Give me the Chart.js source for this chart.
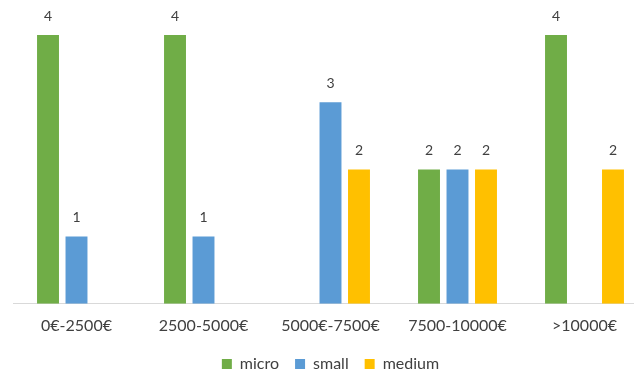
<!DOCTYPE html>
<html>
<head>
<meta charset="utf-8">
<script src="https://cdn.jsdelivr.net/npm/chart.js@4"></script>
<style>
  html, body { margin: 0; padding: 0; background: #fff; overflow: hidden; }
  #wrap { width: 650px; height: 372px; position: relative; }
</style>
</head>
<body>
<div id="wrap"><canvas id="c"></canvas></div>
<script>
// Revenue bands and count of companies per size class
const categories = ['0€-2500€', '2500-5000€', '5000€-7500€', '7500-10000€', '>10000€'];
const micro  = [4, 4, 0, 2, 4];
const small  = [1, 1, 3, 2, 0];
const medium = [0, 0, 2, 2, 2];

const FONT = 'Lato, "Open Sans", sans-serif';
const TEXT = '#404040';

// Writes each non-zero value above its bar
const valueLabels = {
  id: 'valueLabels',
  afterDatasetsDraw(chart) {
    const ctx = chart.ctx;
    ctx.save();
    ctx.font = '14px ' + FONT;
    ctx.fillStyle = TEXT;
    ctx.textAlign = 'center';
    ctx.textBaseline = 'bottom';
    chart.data.datasets.forEach((ds, i) => {
      const meta = chart.getDatasetMeta(i);
      meta.data.forEach((bar, j) => {
        const v = ds.data[j];
        if (!v) return;
        ctx.fillText(String(v), bar.x, bar.y - 12);
      });
    });
    ctx.restore();
  }
};

new Chart(document.getElementById('c'), {
  type: 'bar',
  data: {
    labels: categories,
    datasets: [
      { label: 'micro',  data: micro,  backgroundColor: '#70AD47' },
      { label: 'small',  data: small,  backgroundColor: '#5B9BD5' },
      { label: 'medium', data: medium, backgroundColor: '#FFC000' }
    ]
  },
  options: {
    responsive: true,
    maintainAspectRatio: false,
    animation: false,
    categoryPercentage: 0.673,
    barPercentage: 0.77,
    layout: { padding: { top: 35, left: 13, right: 2, bottom: -10 } },
    scales: {
      x: {
        grid: { display: false, drawTicks: false },
        border: { display: true, color: '#D9D9D9', width: 1 },
        ticks: { color: TEXT, font: { family: FONT, size: 16 }, padding: 12 },
        afterFit(scale) { scale.height -= 7; }
      },
      y: {
        display: false,
        min: 0,
        max: 4
      }
    },
    plugins: {
      legend: {
        position: 'bottom',
        labels: {
          color: TEXT,
          font: { family: FONT, size: 16 },
          boxWidth: 10,
          boxHeight: 10,
          padding: 16
        }
      },
      tooltip: { enabled: false }
    }
  },
  plugins: [valueLabels]
});
</script>
</body>
</html>
